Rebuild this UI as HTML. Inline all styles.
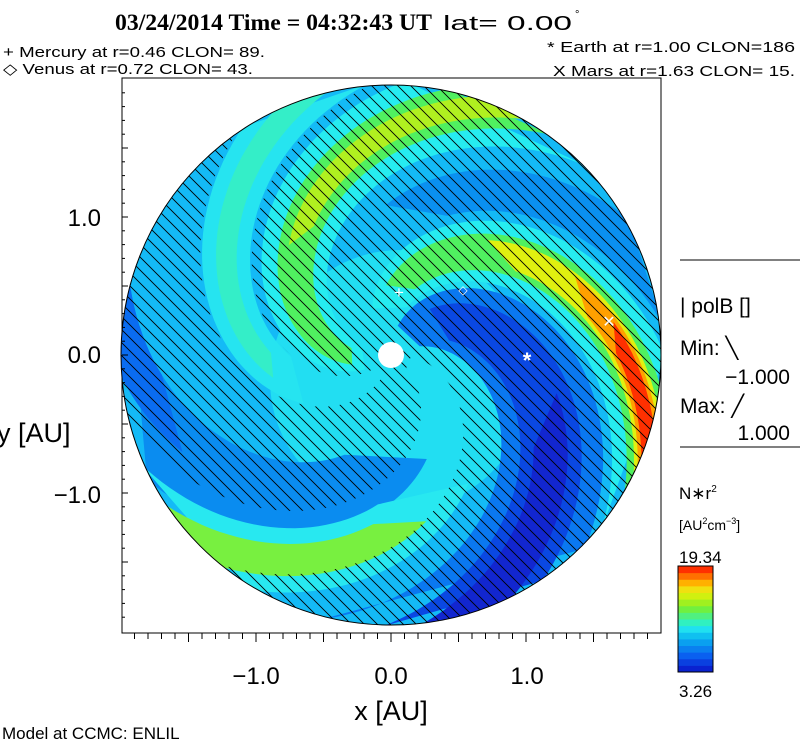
<!DOCTYPE html>
<html><head><meta charset="utf-8"><style>
body{margin:0;background:#fff;width:800px;height:746px;overflow:hidden;font-family:"Liberation Sans",sans-serif}
svg{position:absolute;left:0;top:0}
</style></head><body>
<svg id="chart" width="800" height="746" viewBox="0 0 800 746">
<defs>
<pattern id="hatchBack" patternUnits="userSpaceOnUse" width="13" height="13">
<path d="M-2,-2 L15,15 M-2,11 L2,15 M11,-2 L15,2" stroke="#000" stroke-width="0.9"/>
</pattern>
<pattern id="hatchFwd" patternUnits="userSpaceOnUse" width="13" height="13">
<path d="M-2,15 L15,-2 M-2,2 L2,-2 M11,15 L15,11" stroke="#000" stroke-width="0.9"/>
</pattern>
<clipPath id="circClip"><circle cx="391" cy="355" r="270"/></clipPath>
<clipPath id="fwdClip"><g id="fwdClipG"></g></clipPath>
<mask id="backMask"><circle cx="391" cy="355" r="270" fill="#fff"/><g id="backMaskG"></g></mask>
</defs>
<text x="115" y="30" font-family="Liberation Serif,serif" font-weight="bold" font-size="23" textLength="317" lengthAdjust="spacingAndGlyphs">03/24/2014 Time = 04:32:43 UT</text>
<text x="443" y="30" font-size="20" textLength="129" lengthAdjust="spacingAndGlyphs">lat= 0.00</text>
<text x="575" y="18" font-size="11">°</text>
<text x="3" y="57" font-size="15" textLength="262" lengthAdjust="spacingAndGlyphs">+ Mercury at r=0.46 CLON= 89.</text>
<text x="3" y="74" font-size="15" textLength="250" lengthAdjust="spacingAndGlyphs">◇ Venus at r=0.72 CLON= 43.</text>
<text x="547" y="52" font-size="15" textLength="248" lengthAdjust="spacingAndGlyphs">* Earth at  r=1.00 CLON=186</text>
<text x="553" y="76" font-size="15" textLength="242" lengthAdjust="spacingAndGlyphs">X Mars at r=1.63 CLON= 15.</text>
<rect x="122" y="78" width="539" height="555" fill="none" stroke="#000" stroke-width="1"/>
<g clip-path="url(#circClip)">
<circle cx="391" cy="355" r="270" fill="#14baf6"/>
<circle cx="400" cy="380" r="130" fill="#22def2"/>
<g id="bands"></g>
<rect x="120" y="84" width="545" height="545" fill="url(#hatchBack)" mask="url(#backMask)"/>
<rect x="120" y="84" width="545" height="545" fill="url(#hatchFwd)" clip-path="url(#fwdClip)"/>
</g>
<circle cx="391" cy="355" r="270" fill="none" stroke="#000" stroke-width="1"/>
<circle cx="391" cy="355" r="13" fill="#fff"/>
<text x="399" y="298" fill="#fff" font-size="17" text-anchor="middle">+</text>
<text x="463" y="294" fill="#fff" font-size="12" text-anchor="middle">◇</text>
<text x="527" y="368" fill="#fff" font-size="22" font-weight="bold" text-anchor="middle">*</text>
<text x="609" y="327" fill="#fff" font-size="16" text-anchor="middle">✕</text>
<g id="ticks"></g>
<g font-size="24" fill="#000">
<text x="256" y="684" text-anchor="middle">−1.0</text>
<text x="391" y="684" text-anchor="middle">0.0</text>
<text x="527" y="684" text-anchor="middle">1.0</text>
<text x="101" y="226" text-anchor="end">1.0</text>
<text x="101" y="363" text-anchor="end">0.0</text>
<text x="101" y="503" text-anchor="end">−1.0</text>
</g>
<text x="391" y="720" font-size="27" text-anchor="middle">x [AU]</text>
<text x="-3" y="442" font-size="27">y [AU]</text>
<text x="2" y="739" font-size="17">Model at CCMC: ENLIL</text>
<line x1="680" y1="260" x2="800" y2="260" stroke="#000"/>
<text x="680" y="313" font-size="21">| polB []</text>
<text x="680" y="355" font-size="21">Min: ╲</text>
<text x="790" y="384" font-size="21" text-anchor="end">−1.000</text>
<text x="680" y="413" font-size="21">Max: ╱</text>
<text x="790" y="440" font-size="21" text-anchor="end">1.000</text>
<line x1="680" y1="447" x2="800" y2="447" stroke="#000"/>
<text x="679" y="499" font-size="17">N∗r<tspan font-size="10" dy="-7">2</tspan></text>
<text x="679" y="530" font-size="14">[AU<tspan font-size="9" dy="-6">2</tspan><tspan dy="6">cm</tspan><tspan font-size="9" dy="-6">−3</tspan><tspan dy="6">]</tspan></text>
<text x="679" y="563" font-size="17">19.34</text>
<g id="cbar"></g>
<rect x="678" y="566" width="35" height="106" fill="none" stroke="#000"/>
<text x="679" y="697" font-size="17">3.26</text>
</svg>
<script>
// Spiral structure data: phi0 (deg at r=0), half-width (deg), rMin, rMax, color
const bandPhi0  = [322, 310, 155, 62, 62, 62, 245, 245, 358, 358, 202, 202, 202, 117, 117, 117, 117, 117];
const bandWidth = [22,  10,  12,  30, 18, 10, 14,  6,   18,  9,   22,  12,  6,   20,  12,  8,   6,   4];
const bandRMin  = [110, 230, 150, 30, 60, 170, 100, 120, 150, 170, 30, 40,  150, 50,  70,  150, 200, 225];
const bandRMax  = [270, 270, 270, 270, 270, 270, 270, 270, 270, 270, 270, 270, 270, 270, 270, 270, 270, 270];
const bandColor = ["#0a8cf0","#0a6cf0","#0a90f0","#0a78f0","#0a48e2","#1226cf","#26e4f0","#34eec8","#28e8f0","#78f040","#26ecf0","#50f060","#b0f020","#26ecf0","#50f060","#e0f010","#ffa000","#ff3000"];
// Magnetic polarity sectors with "/" hatching: phi0 center, half-width
const fwdPhi0  = [245, 348];
const fwdWidth = [15, 18];
const colorbarColors = ["#0a22d0","#0a40e0","#0a60f0","#0a80f0","#0aa0f0","#10c0f0","#20e0f0","#30f0c0","#50f080","#70f040","#a0f020","#d0f010","#f0e010","#ffb000","#ff7000","#ff3000"];
const K = 0.5, CX = 391, CY = 355;
function bandPath(phi0, w, r1, r2){
  const a=[], b=[];
  for(let r=r1;r<=r2+4;r+=4){
    const p1=(phi0-K*r+w)*Math.PI/180, p2=(phi0-K*r-w)*Math.PI/180;
    a.push((CX+r*Math.cos(p1)).toFixed(1)+","+(CY-r*Math.sin(p1)).toFixed(1));
    b.push((CX+r*Math.cos(p2)).toFixed(1)+","+(CY-r*Math.sin(p2)).toFixed(1));
  }
  return "M"+a.join(" L")+" L"+b.reverse().join(" L")+"Z";
}
const NS="http://www.w3.org/2000/svg";
const bands=document.getElementById("bands");
for(let i=0;i<bandPhi0.length;i++){
  const p=document.createElementNS(NS,"path");
  p.setAttribute("d",bandPath(bandPhi0[i],bandWidth[i],bandRMin[i],bandRMax[i]));
  p.setAttribute("fill",bandColor[i]);
  
  
  bands.appendChild(p);
}
const fc=document.getElementById("fwdClipG"), bm=document.getElementById("backMaskG");
for(let i=0;i<fwdPhi0.length;i++){
  const d=bandPath(fwdPhi0[i],fwdWidth[i],20,280);
  const p=document.createElementNS(NS,"path"); p.setAttribute("d",d);
  
  
  fc.appendChild(p);
  const q=document.createElementNS(NS,"path"); q.setAttribute("d",d); q.setAttribute("fill","#000");
  
  
  bm.appendChild(q);
}
const tk=document.getElementById("ticks");
for(let i=-19;i<=19;i++){
  const x=CX+i*13.5;
  const l=document.createElementNS(NS,"line");
  l.setAttribute("x1",x);l.setAttribute("x2",x);l.setAttribute("y1",633);l.setAttribute("y2",i%5==0?642:639);
  l.setAttribute("stroke","#000");
  
  
  tk.appendChild(l);
}
for(let i=-19;i<=19;i++){
  const y=CY+i*13.8; if(y<79||y>632) continue;
  const l=document.createElementNS(NS,"line");
  l.setAttribute("y1",y);l.setAttribute("y2",y);l.setAttribute("x1",122);l.setAttribute("x2",i%5==0?128:125);
  l.setAttribute("stroke","#000");
  
  
  tk.appendChild(l);
}
const cb=document.getElementById("cbar"), n=colorbarColors.length, h=106/n;
for(let i=0;i<n;i++){
  const r=document.createElementNS(NS,"rect");
  r.setAttribute("x",678);r.setAttribute("width",35);
  r.setAttribute("y",(672-(i+1)*h).toFixed(2));r.setAttribute("height",(h+0.5).toFixed(2));
  r.setAttribute("fill",colorbarColors[i]);
  
  
  cb.appendChild(r);
}
</script>
</body></html>
